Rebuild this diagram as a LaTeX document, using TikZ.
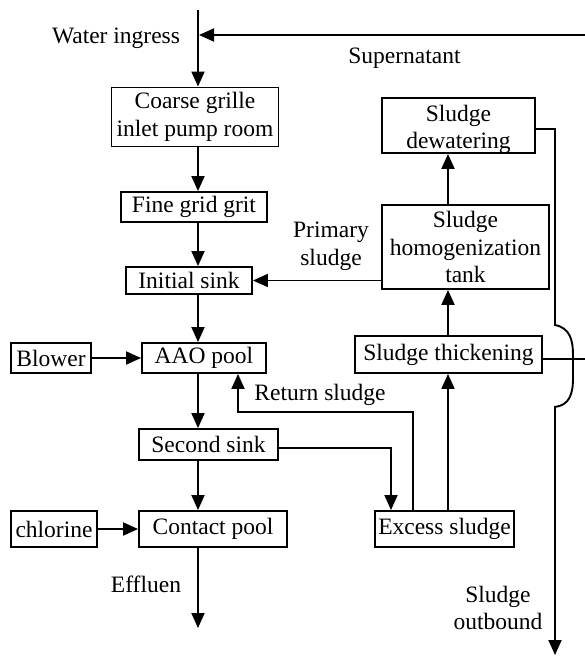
\documentclass[tikz,border=0pt]{standalone}
\usepackage{fontspec}
\setmainfont{Liberation Serif}
\usetikzlibrary{arrows.meta}
\begin{document}
\begin{tikzpicture}[x=1pt,y=-1pt,
  every node/.style={font=\fontsize{23.5}{27.8}\selectfont},
  box/.style={draw, line width=1.9pt, inner sep=0pt, align=center},
  lbl/.style={inner sep=0pt, align=center},
  ln/.style={line width=1.9pt},
  arr/.style={line width=1.9pt, -{Triangle[length=15pt,width=13pt]}}]
\path[use as bounding box] (0,0) rectangle (585,656);
% boxes
\node[box, minimum width=167pt, minimum height=59pt] (coarse) at (195,117) {Coarse grille\\inlet pump room};
\node[box, minimum width=146pt, minimum height=30pt] (fine) at (194,207) {Fine grid grit};
\node[box, minimum width=126pt, minimum height=27pt] (initial) at (189,280.5) {Initial sink};
\node[box, minimum width=124pt, minimum height=30pt] (aao) at (204,358) {AAO pool};
\node[box, minimum width=80pt, minimum height=30pt] (blower) at (51,358) {Blower};
\node[box, minimum width=139pt, minimum height=31pt] (second) at (208.5,444.5) {Second sink};
\node[box, minimum width=148pt, minimum height=36pt] (contact) at (213,529) {Contact pool};
\node[box, minimum width=86pt, minimum height=36pt] (chlorine) at (54,529) {chlorine};
\node[box, minimum width=153pt, minimum height=55pt,
  label={[lbl,yshift=-4pt]center:Sludge\\[-1pt]dewatering}] (dew) at (458.5,125.5) {};
\node[box, minimum width=167pt, minimum height=84pt] (homog) at (465.5,247) {Sludge\\homogenization\\tank};
\node[box, minimum width=187pt, minimum height=37pt] (thick) at (448.5,354.5) {Sludge thickening};
\node[box, minimum width=139pt, minimum height=36pt] (excess) at (444.5,529) {Excess sludge};
% labels
\node[lbl] (lwater) at (116,38) {Water ingress};
\node[lbl] (lsuper) at (404.5,58) {Supernatant};
\node[lbl] (lprim) at (331,246) {Primary\\sludge};
\node[lbl] (lret) at (320,395) {Return sludge};
\node[lbl] (leff) at (146,584) {Effluen};
\node[lbl] (lout) at (498,608) {Sludge\\outbound};
% coordinates
\coordinate (axis) at (198,0);
\coordinate (in) at (198,10);
\coordinate (sj) at (199,35);
\coordinate (sr) at (585,35);
\coordinate (eff) at (198,628);
\coordinate (rx) at (448,0);
\coordinate (ox) at (555,0);
\coordinate (h1) at (555,325);
\coordinate (h2) at (555,407);
\coordinate (out) at (555,655);
\coordinate (te) at (585,359);
\coordinate (r1) at (413,412);
\coordinate (r2) at (238,412);
\coordinate (s1) at (391,448);
% main line
\draw[arr] (in) -- (coarse.north -| axis);
\draw[arr] (sr) -- (sj);
\draw[arr] (coarse.south -| axis) -- (fine.north -| axis);
\draw[arr] (fine.south -| axis) -- (initial.north -| axis);
\draw[arr] (initial.south -| axis) -- (aao.north -| axis);
\draw[arr] (aao.south -| axis) -- (second.north -| axis);
\draw[arr] (second.south -| axis) -- (contact.north -| axis);
\draw[arr] (contact.south -| axis) -- (eff);
\draw[arr] (blower) -- (aao);
\draw[arr] (chlorine) -- (contact);
% sludge line
\draw[arr] (homog.west |- initial.east) -- (initial.east);
\draw[arr] (homog.north -| rx) -- (dew.south -| rx);
\draw[arr] (thick.north -| rx) -- (homog.south -| rx);
\draw[arr] (excess.north -| rx) -- (thick.south -| rx);
\draw[ln] (thick.east |- te) -- (te);
\draw[arr] (dew.east |- 0,129) -- (ox |- 0,129) -- (h1)
  .. controls (570,328) and (573,340) .. (573,355) -- (573,378)
  .. controls (573,395) and (569,405) .. (h2) -- (out);
\draw[arr] (excess.north -| r1) -- (r1) -- (r2) -- (aao.south -| r2);
\draw[arr] (second.east |- s1) -- (s1) -- (excess.north -| s1);
\end{tikzpicture}
\end{document}
